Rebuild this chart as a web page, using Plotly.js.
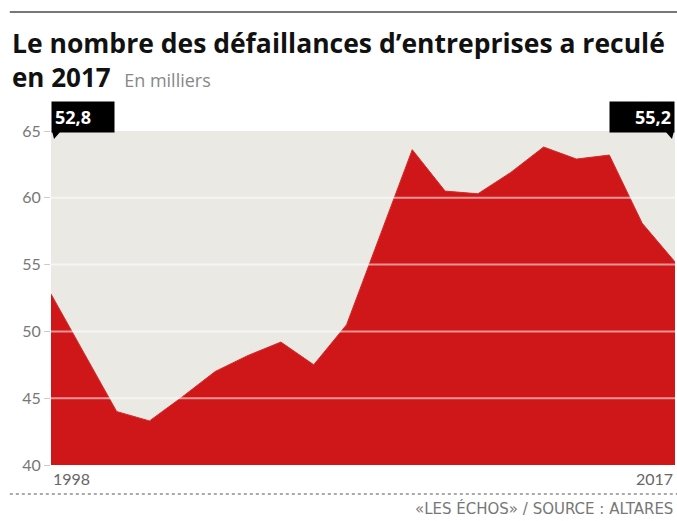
<!DOCTYPE html>
<html><head><meta charset="utf-8">
<script src="https://cdn.plot.ly/plotly-3.0.1.min.js"></script>
<style>html,body{margin:0;padding:0;background:#fff;}#chart{width:677px;height:521px;}</style>
</head><body><div id="chart"></div>
<script>
const years = [1998,1999,2000,2001,2002,2003,2004,2005,2006,2007,2008,2009,2010,2011,2012,2013,2014,2015,2016,2017];
const values = [52.8,48.4,44.0,43.3,45.1,47.0,48.2,49.2,47.5,50.5,57.0,63.6,60.5,60.3,61.9,63.8,62.9,63.2,58.1,55.2];
const yTicks = [40,45,50,55,60,65];
const gridVals = [45,50,55,60];
const firstLabel = "52,8", lastLabel = "55,2";

const FONT = "Lato, 'Open Sans', sans-serif";
const TFONT = "'Open Sans', sans-serif";
const shapes = gridVals.map(v => ({type:'line', xref:'paper', x0:0, x1:1, yref:'y', y0:v, y1:v,
  line:{color:'rgba(255,255,255,0.55)', width:2}, layer:'above'}));
// top rule
shapes.push({type:'line', xref:'paper', yref:'paper', x0:-0.066, x1:1.01, y0:1.356, y1:1.356, line:{color:'#777', width:2}});
// dotted bottom rule
shapes.push({type:'line', xref:'paper', yref:'paper', x0:-0.066, x1:1.01, y0:-0.0868, y1:-0.0868, line:{color:'#aaa', width:2, dash:'dot'}});
// callout pointers
shapes.push({type:'path', xref:'x', yref:'y', xsizemode:'pixel', ysizemode:'pixel', xanchor:years[0], yanchor:65,
  path:'M1,0 L10,0 L3,-8 Z', fillcolor:'#000', line:{width:0}, layer:'above'});
shapes.push({type:'path', xref:'x', yref:'y', xsizemode:'pixel', ysizemode:'pixel', xanchor:years[years.length-1], yanchor:65,
  path:'M-1,0 L-10,0 L-3,-8 Z', fillcolor:'#000', line:{width:0}, layer:'above'});

const annotations = [
  {xref:'paper', yref:'paper', x:-0.066, y:1.2036, xanchor:'left', yanchor:'bottom', showarrow:false,
   text:"<b>Le nombre des défaillances d’entreprises a reculé</b>", font:{family:TFONT, size:26.5, color:'#111'}},
  {xref:'paper', yref:'paper', x:-0.066, y:1.102, xanchor:'left', yanchor:'bottom', showarrow:false,
   text:"<b>en 2017</b>  <span style='font-size:18px;color:#888;font-weight:normal'>En milliers</span>", font:{family:TFONT, size:26, color:'#111'}},
  {x:years[0], y:65, xref:'x', yref:'y', xanchor:'left', yanchor:'bottom', yshift:-2, showarrow:false,
   text:"<b>"+firstLabel+"</b>", bgcolor:'#000', font:{family:TFONT, size:18, color:'#fff'}, borderpad:3, width:56, align:'left'},
  {x:years[years.length-1], y:65, xref:'x', yref:'y', xanchor:'right', yanchor:'bottom', yshift:-2, showarrow:false,
   text:"<b>"+lastLabel+"</b>", bgcolor:'#000', font:{family:TFONT, size:18, color:'#fff'}, borderpad:3, width:58, align:'right'},
  {x:years[0], y:40, xref:'x', yref:'y', xanchor:'left', yanchor:'top', yshift:-2, showarrow:false,
   text:String(years[0]), font:{family:FONT, size:16, color:'#666'}},
  {x:years[years.length-1], y:40, xref:'x', yref:'y', xanchor:'right', yanchor:'top', yshift:-2, showarrow:false,
   text:String(years[years.length-1]), font:{family:FONT, size:16, color:'#666'}},
  {xref:'paper', yref:'paper', x:1, y:-0.1317, xanchor:'right', yanchor:'middle', showarrow:false,
   text:"«LES ÉCHOS» / SOURCE : ALTARES", font:{family:"'DejaVu Sans', sans-serif", size:15, color:'#777'}}
];

const trace = {x:years, y:values, type:'scatter', mode:'lines', fill:'tozeroy',
  fillcolor:'#cf1719', line:{color:'#d42a2a', width:1}, hoverinfo:'skip'};

const layout = {
  width:677, height:521,
  margin:{l:51, r:2, t:131, b:56},
  paper_bgcolor:'#ffffff', plot_bgcolor:'#ebe9e4',
  showlegend:false,
  xaxis:{range:[years[0], years[years.length-1]], showgrid:false, zeroline:false, showticklabels:false, ticks:'', fixedrange:true},
  yaxis:{range:[40,65], tickvals:yTicks, showgrid:false, zeroline:false, ticks:'outside', ticklen:6, tickcolor:'#ccc',
    tickfont:{family:FONT, size:16, color:'#777'}, fixedrange:true},
  shapes:shapes, annotations:annotations
};
Plotly.newPlot('chart', [trace], layout, {staticPlot:true, displayModeBar:false});
</script></body></html>
